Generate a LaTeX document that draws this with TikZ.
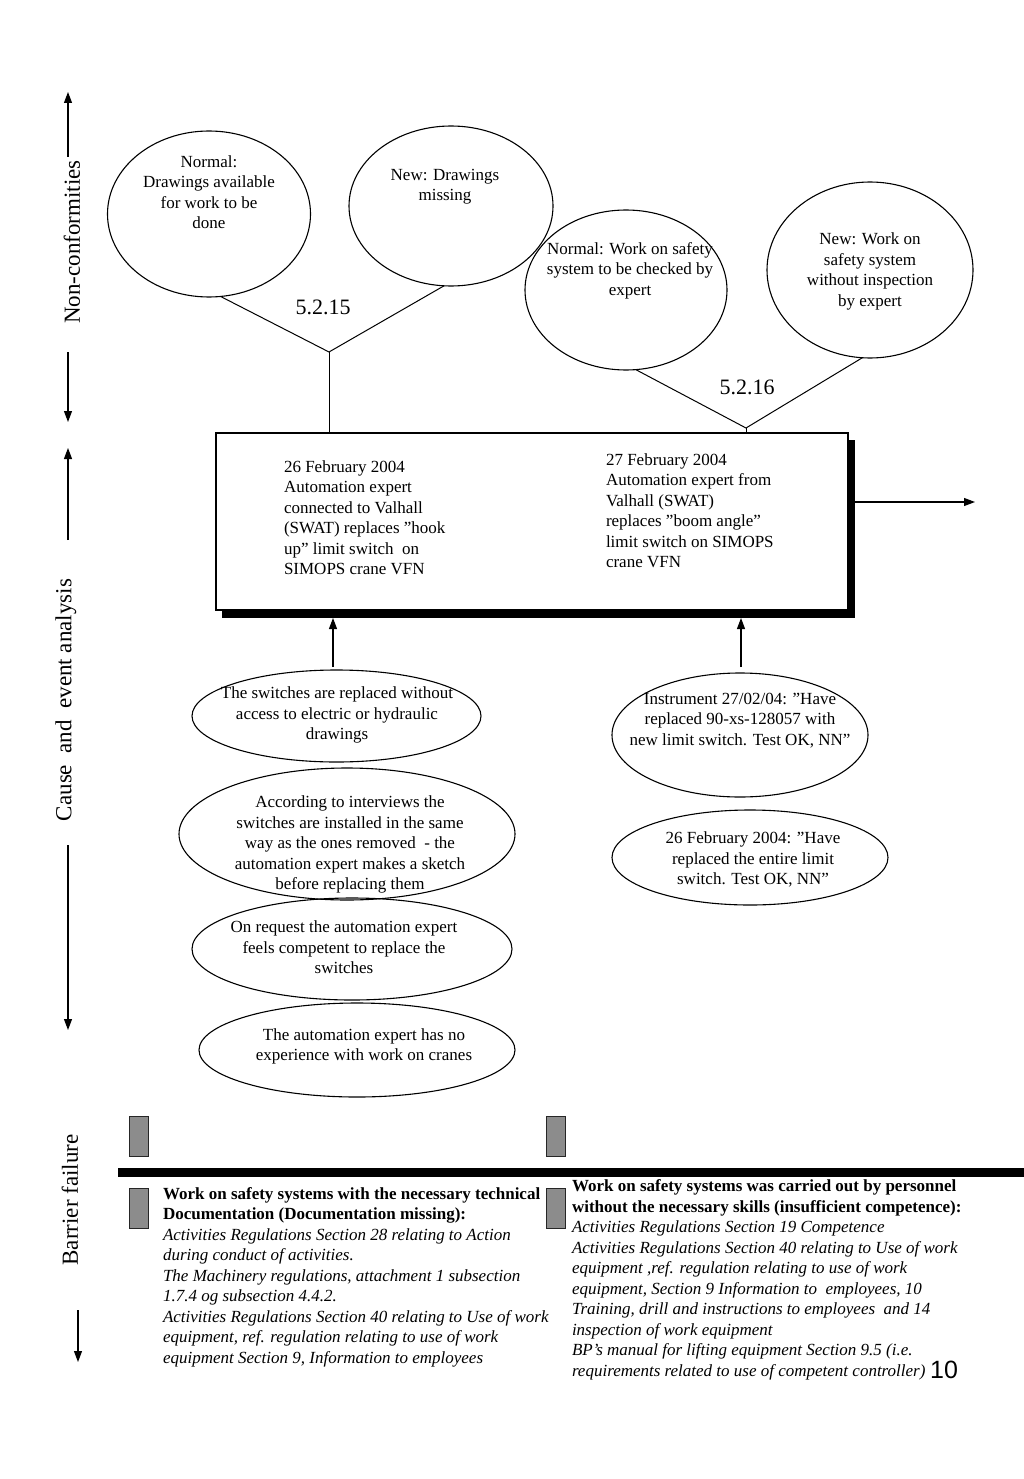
\documentclass[tikz,border=0pt]{standalone}
\usepackage{fontspec}
\setmainfont{Liberation Serif}
\newfontfamily\sansf{Liberation Sans}
\usetikzlibrary{shapes.geometric,arrows.meta}
\definecolor{barg}{RGB}{140,140,140}
\begin{document}
\begin{tikzpicture}[x=1pt,y=-1pt,
  every node/.style={font=\fontsize{17}{20.5}\selectfont, inner sep=0pt, outer sep=0pt},
  ell/.style={draw, ellipse, line width=1.1pt},
  txt/.style={align=center},
  ltxt/.style={align=left, anchor=west},
  arr/.style={line width=1.1pt,-{Triangle[length=11pt,width=8pt]}},
  conn/.style={line width=1pt},
  barbox/.style={draw=black!85, fill=barg, line width=1pt, minimum width=19pt, minimum height=40pt},
  axl/.style={rotate=90, font=\fontsize{23}{27}\selectfont},
  num/.style={font=\fontsize{22}{26}\selectfont}]
\useasboundingbox (0,0) rectangle (1024,1479);

% ---- side axis ----
\node[axl] (ax1) at (72,242) {Non-conformities};
\node[axl] (ax2) at (66,700) {Cause\ \ and\ \ event analysis};
\node[axl] (ax3) at (70,1200) {Barrier failure};
\coordinate (a1s) at (68,157); \coordinate (a1e) at (68,92);
\coordinate (a2s) at (68,352); \coordinate (a2e) at (68,422);
\coordinate (a3s) at (68,540); \coordinate (a3e) at (68,448);
\coordinate (a4s) at (68,845); \coordinate (a4e) at (68,1030);
\coordinate (a5s) at (78,1310); \coordinate (a5e) at (78,1362);
\draw[arr] (a1s) -- (a1e);
\draw[arr] (a2s) -- (a2e);
\draw[arr] (a3s) -- (a3e);
\draw[arr] (a4s) -- (a4e);
\draw[arr] (a5s) -- (a5e);

% ---- non-conformities ----
\node[ell, minimum width=203pt, minimum height=166pt] (e1) at (209,214) {};
\node[txt] (e1t) at (209,192) {Normal:\\Drawings available\\for work to be\\done};
\node[ell, minimum width=204pt, minimum height=160pt] (e2) at (451,206) {};
\node[txt] (e2t) at (445,186.5) {New: Drawings\\missing};
\node[ell, minimum width=202pt, minimum height=160pt] (e3) at (626,290) {};
\node[txt] (e3t) at (630,270.5) {Normal: Work on safety\\system to be checked by\\expert};
\node[ell, minimum width=206pt, minimum height=176pt] (e4) at (870,270) {};
\node[txt] (e4t) at (870,271.5) {New: Work on\\safety system\\without inspection\\by expert};

\coordinate (j1) at (329,352);
\coordinate (j2) at (746,428);
\node[num] (n1) at (323,307) {5.2.15};
\node[num] (n2) at (747,387) {5.2.16};

% ---- event box ----
\fill (222,440) rectangle (855,618);
\node[draw, fill=white, line width=1.1pt, minimum width=632pt, minimum height=177pt] (box) at (532,521.5) {};
\node[ltxt] (bt1) at (284,517.5) {26 February 2004\\Automation expert\\connected to Valhall\\(SWAT) replaces ''hook\\up'' limit switch\ \ on\\SIMOPS crane VFN};
\node[ltxt] (bt2) at (606,510.5) {27 February 2004\\Automation expert from\\Valhall (SWAT)\\replaces ''boom angle''\\limit switch on SIMOPS\\crane VFN};

\draw[conn] (e1.-82) -- (j1) -- (e2.-95);
\draw[conn] (j1) -- (box.north -| j1);
\draw[conn] (e3.-83) -- (j2) -- (e4.-95);
\draw[conn] (j2) -- (box.north -| j2);

\coordinate (out) at (975,502);
\draw[arr] (855,502) -- (out);

% ---- causes ----
\node[ell, minimum width=289pt, minimum height=92pt] (l1) at (336.5,716) {};
\node[txt] (l1t) at (337,715) {The switches are replaced without\\access to electric or hydraulic\\drawings};
\node[ell, minimum width=336pt, minimum height=132pt] (l2) at (347,834) {};
\node[txt] (l2t) at (350,844.5) {According to interviews the\\switches are installed in the same\\way as the ones removed\ \ - the\\automation expert makes a sketch\\before replacing them};
\node[ell, minimum width=320pt, minimum height=102pt] (l3) at (352,949) {};
\node[txt] (l3t) at (344,947.5) {On request the automation expert\\feels competent to replace the\\switches};
\node[ell, minimum width=316pt, minimum height=94pt] (l4) at (357,1050) {};
\node[txt] (l4t) at (364,1046.5) {The automation expert has no\\experience with work on cranes};

\node[ell, minimum width=256pt, minimum height=124pt] (r1) at (740,735) {};
\node[txt] (r1t) at (740,720.5) {Instrument 27/02/04: ''Have\\replaced 90-xs-128057 with\\new limit switch. Test OK, NN''};
\node[ell, minimum width=276pt, minimum height=95pt] (r2) at (750,857.5) {};
\node[txt] (r2t) at (753,859.5) {26 February 2004: ''Have\\replaced the entire limit\\switch. Test OK, NN''};

\coordinate (t1) at (333,618);
\coordinate (t2) at (741,618);
\draw[arr] (333,667) -- (t1);
\draw[arr] (741,667) -- (t2);

% ---- barrier failure ----
\node[barbox] (b1) at (139,1136) {};
\node[barbox] (b2) at (555.5,1136) {};
\fill (118,1168) rectangle (1024,1177);
\node[barbox] (b3) at (139,1208) {};
\node[barbox] (b4) at (555.5,1208) {};

\node[ltxt] (bl) at (163,1277) {\textbf{Work on safety systems with the necessary technical}\\\textbf{Documentation (Documentation missing):}\\\textit{Activities Regulations Section 28 relating to Action}\\\textit{during conduct of activities.}\\\textit{The Machinery regulations, attachment 1 subsection}\\\textit{1.7.4 og subsection 4.4.2.}\\\textit{Activities Regulations Section 40 relating to Use of work}\\\textit{equipment, ref. regulation relating to use of work}\\\textit{equipment Section 9, Information to employees}};
\node[ltxt] (br) at (572,1280) {\textbf{Work on safety systems was carried out by personnel}\\\textbf{without the necessary skills (insufficient competence):}\\\textit{Activities Regulations Section 19 Competence}\\\textit{Activities Regulations Section 40 relating to Use of work}\\\textit{equipment ,ref. regulation relating to use of work}\\\textit{equipment, Section 9 Information to\ \ employees, 10}\\\textit{Training, drill and instructions to employees\ \ and 14}\\\textit{inspection of work equipment}\\\textit{BP's manual for lifting equipment Section 9.5 (i.e.}\\\textit{requirements related to use of competent controller)}};
\node[font=\sansf\fontsize{25}{28}\selectfont] (pg) at (944,1370) {10};
\end{tikzpicture}
\end{document}
